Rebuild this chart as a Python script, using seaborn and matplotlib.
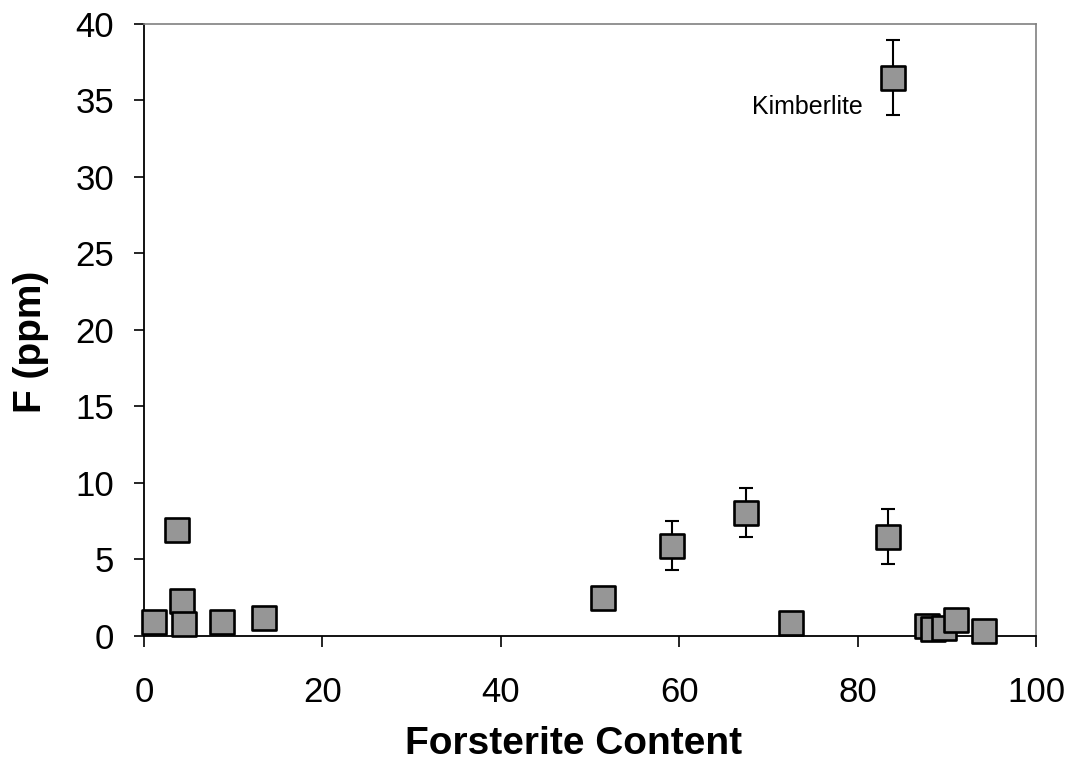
import numpy as np
import pandas as pd
import matplotlib
matplotlib.use('Agg')
import matplotlib.pyplot as plt
import seaborn as sns

# forsterite content vs F (ppm)
fo = [1.1, 3.7, 4.3, 4.5, 8.7, 13.4, 51.4, 59.2, 67.5, 72.5, 83.4, 84.0,
      87.8, 88.4, 89.7, 91.0, 94.2]
f_ppm = [0.9, 6.9, 2.3, 0.8, 0.9, 1.2, 2.5, 5.9, 8.05, 0.85, 6.5, 36.5,
         0.65, 0.45, 0.5, 1.05, 0.3]
# samples with error bars
err_fo = [59.2, 67.5, 83.4, 84.0]
err_f = [5.9, 8.05, 6.5, 36.5]
err_sd = [1.6, 1.6, 1.8, 2.45]

df = pd.DataFrame({'Forsterite Content': fo, 'F (ppm)': f_ppm})

sns.set_style('ticks')
plt.rcParams['font.family'] = ['Liberation Sans', 'DejaVu Sans']
plt.rcParams['text.color'] = 'black'
plt.rcParams['axes.labelcolor'] = 'black'
plt.rcParams['xtick.color'] = 'black'
plt.rcParams['ytick.color'] = 'black'

fig, ax = plt.subplots(figsize=(10.75, 7.69), dpi=100)
fig.subplots_adjust(left=0.134, right=0.9637, top=0.9688, bottom=0.173)

ax.errorbar(err_fo, err_f, yerr=err_sd, fmt='none', ecolor='black',
            elinewidth=1.5, capsize=5, capthick=1.5, zorder=1)
sns.scatterplot(data=df, x='Forsterite Content', y='F (ppm)', marker='s',
                s=310, color='#969696', edgecolor='black', linewidth=1.9,
                ax=ax, zorder=3, clip_on=False)

ax.text(80.6, 34.6, 'Kimberlite', ha='right', va='center', fontsize=18)

ax.set_xlim(0, 100)
ax.set_ylim(0, 40)
ax.set_xticks(np.arange(0, 101, 20))
ax.set_yticks(np.arange(0, 41, 5))
ax.tick_params(labelsize=25, width=1.2)
ax.tick_params(axis='x', length=8, pad=21)
ax.tick_params(axis='y', length=7.5, pad=14)
ax.set_xlabel('Forsterite Content', fontsize=28, fontweight='bold', va='center')
ax.set_ylabel('F (ppm)', fontsize=28, fontweight='bold', va='center')
ax.xaxis.set_label_coords(0.4815, -0.176)
ax.yaxis.set_label_coords(-0.127, 0.48)

for s in ['left', 'bottom']:
    ax.spines[s].set_color('black')
    ax.spines[s].set_linewidth(1.3)
for s in ['top', 'right']:
    ax.spines[s].set_color('#808080')
    ax.spines[s].set_linewidth(1.2)

fig.savefig('out.png', dpi=100)
